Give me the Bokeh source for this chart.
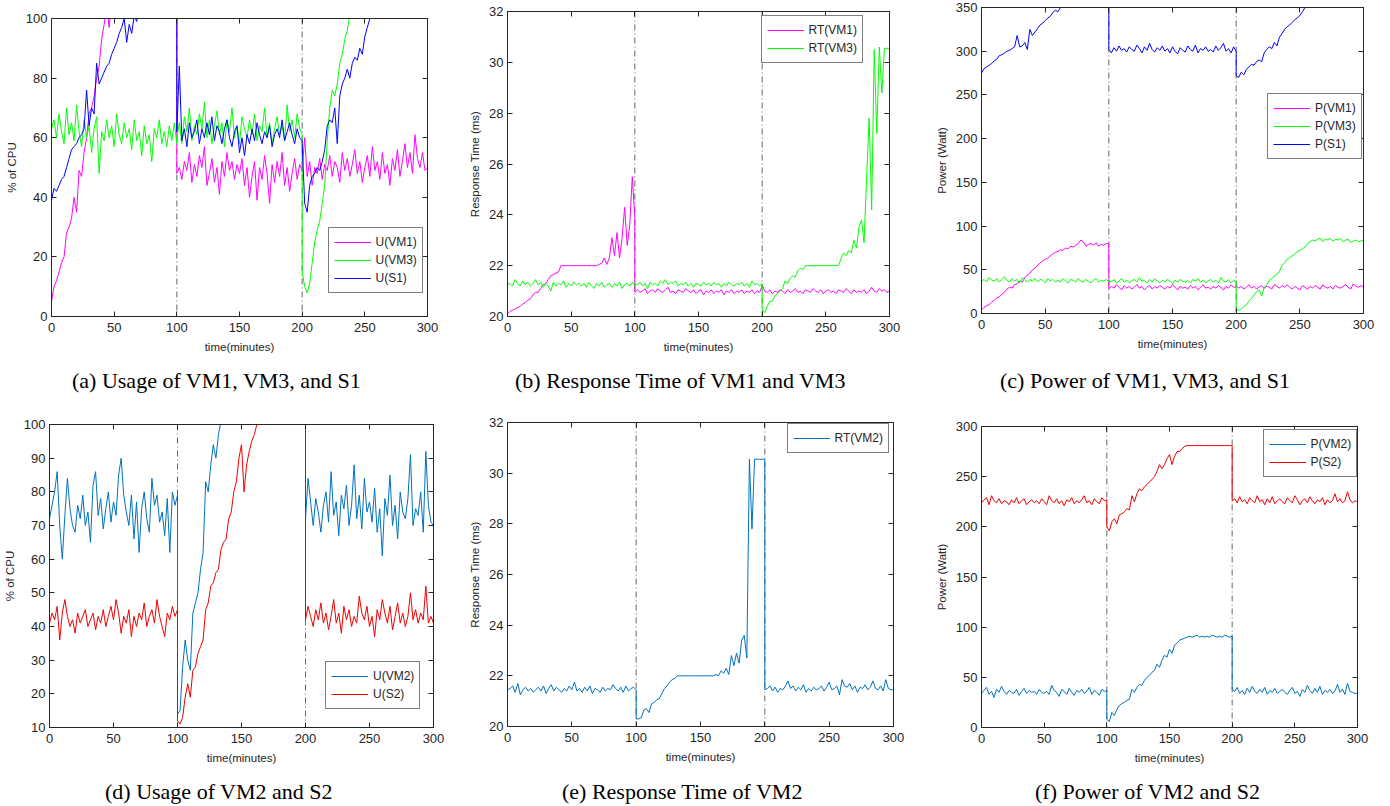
from bokeh.plotting import figure
from bokeh.models import Range1d, LinearAxis, FixedTicker, Span, Legend, LegendItem, Div
from bokeh.layouts import row, column
from bokeh.embed import file_html
from bokeh.resources import INLINE

# ---------------- data (sampled every 2 minutes, three phases: 0-100, 100-200, 200-300) -------------
T = list(range(0, 101, 2)) + list(range(100, 201, 2)) + list(range(200, 301, 2))
XTICKS = [0, 50, 100, 150, 200, 250, 300]
VLINES = [100, 200]

# (a) CPU usage (%)
U_VM1 = [5, 10, 12, 15, 18, 20, 28, 30, 33, 40, 35, 49, 47, 55, 60, 68, 70, 74, 80, 84,
         93, 98, 104, 97, 106, 108, 110, 112, 111, 115, 113, 116, 114, 118, 117, 115, 119, 116, 118, 120,
         117, 119, 121, 118, 120, 119, 122, 120, 118, 121, 120] + \
        [48, 50, 46, 52, 49, 55, 45, 51, 47, 54, 50, 57, 44, 48, 53, 45, 50, 41, 52, 47,
         55, 49, 52, 46, 51, 48, 53, 44, 50, 40, 47, 52, 39, 50, 46, 54, 48, 38, 51, 45,
         52, 47, 55, 44, 50, 42, 48, 53, 46, 51, 49] + \
        [49, 60, 47, 52, 44, 50, 48, 53, 46, 51, 49, 54, 47, 52, 50, 45, 55, 49, 53, 47,
         51, 56, 48, 52, 45, 50, 54, 47, 57, 49, 52, 46, 55, 48, 51, 44, 53, 49, 56, 47,
         52, 58, 50, 55, 48, 61, 53, 50, 55, 49, 50]
U_VM3 = [63, 66, 60, 68, 62, 58, 70, 61, 65, 59, 71, 62, 57, 66, 60, 64, 55, 63, 67, 48,
         62, 59, 66, 60, 64, 57, 68, 61, 58, 65, 60, 63, 56, 66, 59, 62, 54, 64, 58, 61,
         52, 63, 60, 66, 58, 62, 57, 64, 59, 65, 58] + \
        [60, 65, 58, 67, 62, 70, 59, 64, 61, 68, 63, 72, 60, 66, 58, 64, 69, 61, 65, 57,
         66, 62, 70, 60, 64, 58, 67, 63, 60, 66, 61, 68, 59, 64, 62, 70, 60, 65, 58, 63,
         67, 61, 64, 59, 71, 62, 66, 60, 68, 63, 61] + \
        [15, 10, 8, 11, 18, 25, 29, 32, 38, 44, 59, 70, 76, 74, 78, 85, 88, 93, 96, 101,
         104, 107, 106, 110, 112, 111, 114, 116, 115, 118, 117, 119, 118, 120, 121, 119, 122, 120, 121, 123,
         122, 120, 123, 121, 124, 122, 120, 123, 121, 122, 121]
U_S1 = [39, 43, 42, 44, 46, 47, 50, 53, 56, 57, 58, 60, 61, 63, 76, 64, 70, 68, 85, 78,
        80, 82, 84, 85, 88, 90, 92, 95, 97, 100, 92, 98, 95, 101, 99, 104, 106, 108, 110, 109,
        112, 111, 113, 115, 114, 116, 115, 117, 116, 118, 117] + \
       [62, 84, 59, 63, 57, 65, 60, 62, 66, 58, 63, 60, 65, 61, 67, 59, 64, 62, 58, 63,
        66, 60, 57, 62, 64, 55, 60, 54, 61, 58, 63, 59, 65, 61, 58, 62, 60, 64, 57, 61,
        63, 60, 66, 59, 62, 65, 61, 58, 63, 60, 59] + \
       [58, 38, 35, 44, 47, 48, 50, 49, 52, 56, 64, 66, 65, 70, 58, 74, 78, 80, 83, 80,
        85, 87, 86, 90, 88, 94, 97, 100, 102, 104, 106, 105, 108, 110, 109, 112, 111, 113, 115, 114,
        116, 115, 117, 118, 116, 119, 118, 120, 119, 121, 120]

# (b) response time (ms)
RT_VM1 = [20.1, 20.2, 20.25, 20.3, 20.35, 20.4, 20.5, 20.55, 20.65, 20.7,
          20.85, 20.95, 20.95, 21.1, 21.25, 21.3, 21.45, 21.6, 21.65, 21.7,
          21.75, 22.0, 22.0, 22.0, 22.0, 22.0, 22.0, 22.0, 22.0, 22.0,
          22.0, 22.0, 22.0, 22.0, 22.0, 22.0, 22.05, 22.1, 22.3, 22.05,
          22.3, 23.1, 22.4, 23.3, 22.3, 23.1, 24.3, 22.8, 23.6, 25.5, 23.9] + \
         [20.95, 21.05, 20.95, 21.0, 21.1, 20.9, 21.0, 21.05, 20.95, 21.1,
          21.0, 20.95, 21.05, 21.15, 20.95, 21.0, 20.9, 21.05, 21.0, 20.95,
          21.1, 21.0, 20.95, 21.05, 20.9, 21.0, 21.05, 20.85, 21.0, 20.95,
          21.05, 20.9, 21.0, 20.95, 21.05, 20.85, 21.0, 20.95, 21.05, 20.9,
          21.0, 20.95, 21.05, 20.9, 21.0, 20.95, 21.05, 20.9, 21.0, 20.95, 21.2] + \
         [21.25, 21.0, 20.95, 21.05, 20.9, 21.0, 20.95, 21.05, 21.0, 20.9,
          21.05, 20.95, 21.0, 21.1, 20.95, 21.0, 20.9, 21.05, 21.0, 20.95,
          21.1, 21.0, 20.95, 21.05, 20.9, 21.0, 21.05, 20.95, 21.0, 20.9,
          21.05, 21.0, 20.95, 21.1, 21.0, 20.9, 21.05, 20.95, 21.0, 20.95,
          21.05, 20.9, 21.0, 21.15, 21.0, 20.95, 21.1, 21.0, 21.05, 20.95, 21.0]
RT_VM3 = [21.25, 21.3, 21.2, 21.45, 21.3, 21.2, 21.4, 21.25, 21.35, 21.2,
          21.3, 21.45, 21.25, 21.35, 21.15, 21.3, 21.2, 21.0, 21.35, 21.2,
          21.3, 21.25, 21.4, 21.15, 21.3, 21.2, 21.35, 21.25, 21.3, 21.2,
          21.3, 21.15, 21.35, 21.2, 21.1, 21.3, 21.2, 21.35, 21.15, 21.25,
          21.3, 21.15, 21.3, 21.2, 21.35, 21.1, 21.25, 21.3, 21.2, 21.35, 21.2] + \
         [21.3, 21.25, 21.35, 21.2, 21.3, 21.1, 21.35, 21.25, 21.3, 21.2,
          21.4, 21.3, 21.45, 21.25, 21.35, 21.3, 21.4, 21.2, 21.3, 21.25,
          21.35, 21.2, 21.3, 21.15, 21.3, 21.25, 21.2, 21.35, 21.25, 21.3,
          21.2, 21.35, 21.25, 21.3, 21.15, 21.3, 21.2, 21.35, 21.25, 21.2,
          21.3, 21.25, 21.35, 21.2, 21.3, 21.15, 21.4, 21.25, 21.3, 21.2, 21.3] + \
         [20.3, 20.15, 20.4, 20.6, 20.6, 20.8, 20.9, 21.0, 21.1, 21.4,
          21.3, 21.5, 21.6, 21.55, 21.8, 21.9, 21.85, 22.0, 22.0, 22.0,
          22.0, 22.0, 22.0, 22.0, 22.0, 22.0, 22.0, 22.0, 22.0, 22.0,
          22.0, 22.3, 22.5, 22.4, 22.6, 22.5, 23.0, 22.7, 23.5, 23.8,
          22.9, 25.4, 27.8, 24.2, 30.5, 27.2, 30.6, 28.8, 30.55, 30.55, 30.55]

# (c) power (Watt)
P_VM1 = [4, 7, 9, 10, 13, 15, 18, 19, 22, 24, 28, 30, 29, 33, 34, 37, 36, 41, 44, 46,
         50, 52, 55, 58, 60, 62, 63, 66, 68, 70, 71, 73, 72, 75, 74, 77, 76, 78, 80, 84,
         82, 77, 79, 80, 78, 81, 77, 79, 78, 80, 80] + \
        [28, 31, 29, 33, 30, 27, 32, 29, 31, 28, 30, 33, 29, 31, 27, 30, 32, 28, 31, 29,
         32, 30, 28, 31, 29, 33, 30, 27, 31, 29, 30, 28, 32, 29, 31, 27, 30, 33, 29, 30,
         28, 31, 29, 32, 30, 27, 31, 29, 33, 30, 30] + \
        [32, 29, 31, 28, 30, 33, 29, 31, 28, 30, 32, 29, 31, 30, 28, 33, 31, 29, 32, 30,
         33, 30, 28, 31, 29, 27, 32, 30, 28, 31, 29, 32, 30, 28, 33, 30, 29, 31, 28, 32,
         30, 29, 31, 33, 30, 28, 34, 31, 30, 32, 30]
P_VM3 = [37, 39, 36, 41, 38, 37, 40, 36, 39, 42, 38, 36, 40, 37, 39, 35, 41, 38, 36, 39,
         37, 40, 36, 39, 38, 35, 40, 37, 39, 36, 38, 36, 40, 37, 35, 39, 38, 36, 40, 37,
         36, 39, 37, 35, 38, 40, 36, 38, 37, 39, 36] + \
        [38, 36, 39, 35, 37, 40, 36, 38, 35, 37, 39, 36, 41, 37, 38, 35, 39, 36, 40, 37,
         35, 38, 36, 39, 37, 34, 38, 36, 39, 37, 36, 38, 35, 39, 37, 40, 36, 38, 35, 37,
         39, 36, 38, 35, 41, 37, 36, 39, 35, 38, 36] + \
        [6, 3, 5, 8, 10, 14, 17, 21, 25, 27, 20, 30, 33, 38, 40, 43, 45, 48, 55, 58,
         62, 64, 66, 68, 71, 72, 74, 76, 80, 82, 84, 83, 85, 86, 82, 85, 84, 86, 83, 85,
         84, 86, 82, 84, 85, 81, 83, 84, 82, 83, 84]
P_S1 = [275, 280, 282, 284, 286, 289, 291, 295, 296, 298, 300, 301, 303, 305, 318, 305, 306, 310, 302, 325,
        318, 322, 326, 330, 332, 335, 338, 340, 344, 347, 345, 350, 352, 355, 357, 356, 360, 358, 362, 361,
        363, 362, 365, 364, 366, 365, 367, 366, 368, 367, 368] + \
       [302, 298, 304, 300, 306, 301, 303, 299, 305, 302, 300, 307, 303, 298, 305, 301, 309, 302, 299, 304,
        301, 306, 300, 303, 298, 305, 300, 297, 304, 301, 299, 306, 302, 300, 307, 298, 303, 301, 305, 300,
        302, 299, 306, 301, 304, 309, 300, 303, 298, 305, 300] + \
       [272, 270, 276, 273, 279, 282, 285, 284, 288, 290, 288, 298, 302, 305, 303, 310, 306, 316, 320, 325,
        328, 330, 333, 336, 338, 341, 345, 350, 352, 355, 357, 356, 359, 360, 362, 361, 363, 364, 366, 365,
        367, 366, 368, 369, 367, 370, 369, 371, 370, 372, 371]

# (d) CPU usage (%)
U_VM2 = [72, 76, 80, 86, 70, 60, 73, 84, 75, 70, 68, 76, 72, 79, 70, 74, 65, 82, 86, 73,
         78, 69, 75, 80, 71, 77, 73, 85, 90, 79, 74, 70, 79, 66, 77, 62, 75, 80, 72, 68,
         84, 76, 79, 71, 74, 67, 78, 62, 80, 76, 79] + \
        [14, 15, 28, 36, 30, 27, 44, 47, 50, 57, 62, 83, 80, 88, 94, 90, 97, 101, 104, 106,
         108, 107, 110, 109, 111, 110, 112, 111, 113, 112, 114, 113, 112, 115, 114, 113, 116, 115, 114, 116,
         115, 117, 116, 115, 117, 116, 118, 117, 116, 118, 117] + \
        [72, 84, 77, 70, 78, 74, 68, 76, 80, 71, 86, 73, 77, 67, 79, 75, 82, 70, 76, 88,
         72, 79, 69, 84, 74, 77, 71, 81, 68, 75, 61, 78, 73, 85, 70, 76, 66, 80, 74, 72,
         78, 91, 70, 75, 73, 80, 68, 92, 76, 71, 70]
U_S2 = [41, 44, 42, 46, 36, 44, 48, 43, 40, 42, 38, 44, 41, 43, 45, 40, 42, 44, 39, 43,
        41, 45, 40, 43, 46, 42, 48, 44, 38, 43, 41, 45, 37, 43, 40, 44, 42, 47, 40, 43,
        45, 41, 48, 43, 40, 37, 44, 42, 46, 43, 45] + \
       [12, 11, 13, 19, 23, 19, 27, 28, 32, 34, 36, 45, 47, 52, 53, 56, 57, 63, 65, 66,
        72, 74, 80, 83, 90, 94, 80, 88, 92, 95, 97, 100, 101, 104, 103, 106, 105, 107, 108, 107,
        109, 108, 110, 109, 111, 110, 112, 111, 110, 112, 111] + \
       [42, 46, 43, 40, 45, 42, 47, 41, 44, 39, 43, 48, 41, 44, 38, 46, 42, 45, 40, 43,
        41, 49, 44, 42, 46, 40, 43, 37, 45, 42, 48, 44, 41, 46, 39, 43, 47, 41, 44, 40,
        43, 50, 42, 45, 41, 44, 42, 52, 41, 43, 41]

# (e) response time (ms)
RT_VM2 = [21.45, 21.5, 21.6, 21.35, 21.7, 21.25, 21.45, 21.55, 21.4, 21.5,
          21.35, 21.45, 21.55, 21.4, 21.6, 21.3, 21.5, 21.65, 21.4, 21.55,
          21.45, 21.35, 21.5, 21.4, 21.6, 21.45, 21.75, 21.4, 21.5, 21.35,
          21.55, 21.4, 21.6, 21.3, 21.5, 21.45, 21.35, 21.55, 21.4, 21.5,
          21.45, 21.65, 21.5, 21.4, 21.55, 21.35, 21.6, 21.4, 21.5, 21.55, 21.45] + \
         [20.3, 20.3, 20.35, 20.65, 20.7, 20.55, 20.9, 20.95, 21.05, 21.1,
          21.3, 21.5, 21.6, 21.75, 21.85, 21.9, 22.0, 22.0, 22.0, 22.0,
          22.0, 22.0, 22.0, 22.0, 22.0, 22.0, 22.0, 22.0, 22.0, 22.0,
          22.0, 22.05, 22.0, 22.2, 22.1, 22.3, 22.05, 22.8, 22.4, 22.9,
          22.5, 23.4, 23.6, 22.7, 30.55, 27.8, 30.55, 30.55, 30.55, 30.55, 30.55] + \
         [21.45, 21.5, 21.6, 21.4, 21.55, 21.35, 21.5, 21.45, 21.6, 21.8,
          21.5, 21.6, 21.4, 21.55, 21.45, 21.65, 21.35, 21.5, 21.4, 21.55,
          21.45, 21.5, 21.6, 21.4, 21.55, 21.75, 21.45, 21.5, 21.6, 21.25,
          21.85, 21.6, 21.55, 21.7, 21.45, 21.6, 21.35, 21.55, 21.5, 21.65,
          21.45, 21.55, 21.8, 21.5, 21.45, 21.6, 21.4, 21.85, 21.5, 21.45, 21.45]

# (f) power (Watt)
P_VM2 = [34, 37, 40, 33, 36, 30, 38, 35, 41, 36, 33, 37, 35, 34, 38, 32, 36, 39, 34, 37,
         35, 36, 33, 38, 35, 34, 36, 33, 42, 37, 35, 31, 38, 36, 33, 39, 35, 32, 37, 35,
         38, 34, 36, 40, 33, 37, 35, 32, 38, 36, 37] + \
        [8, 6, 15, 12, 18, 22, 24, 25, 27, 28, 38, 35, 40, 43, 42, 47, 50, 52, 55, 57,
         63, 60, 67, 72, 70, 78, 74, 82, 84, 87, 88, 89, 90, 91, 90, 91, 92, 90, 91, 90,
         91, 90, 92, 91, 90, 91, 90, 92, 91, 90, 91] + \
        [38, 36, 40, 34, 37, 33, 39, 35, 41, 36, 34, 38, 35, 40, 33, 37, 35, 39, 34, 36,
         38, 35, 33, 37, 40, 34, 36, 31, 38, 35, 42, 37, 34, 39, 35, 41, 33, 37, 35, 38,
         34, 36, 43, 35, 38, 33, 44, 36, 35, 34, 34]
P_S2 = [224, 227, 229, 222, 231, 226, 224, 228, 223, 226, 225, 222, 227, 224, 229, 223, 226, 228, 222, 225,
        227, 224, 226, 223, 228, 225, 222, 231, 226, 224, 228, 223, 226, 221, 227, 225, 229, 223, 226, 224,
        227, 231, 224, 226, 222, 228, 225, 223, 229, 226, 227] + \
       [200, 196, 205, 208, 203, 212, 213, 215, 218, 217, 231, 225, 233, 238, 236, 240, 242, 245, 247, 250,
        255, 262, 258, 262, 268, 272, 262, 270, 275, 275, 278, 280, 281, 281, 281, 281, 281, 281, 281, 281,
        281, 281, 281, 281, 281, 281, 281, 281, 281, 281, 281] + \
       [226, 228, 224, 230, 225, 227, 223, 229, 226, 224, 231, 225, 227, 222, 228, 224, 230, 223, 226, 228,
        225, 223, 229, 226, 224, 231, 227, 222, 226, 228, 224, 230, 226, 223, 227, 225, 229, 222, 227, 224,
        226, 233, 225, 228, 224, 226, 235, 227, 224, 226, 225]

# ---------------- styling -------------
SANS = "Liberation Sans"
SERIF = "Liberation Serif"
INK = "#262626"
MAGENTA, GREEN, BLUE = "#ff00ff", "#00ff00", "#0000ff"
BLUE2, RED = "#0072bd", "#ee0000"


def style_axis(ax, labels=True):
    ax.axis_line_color = INK
    ax.major_tick_line_color = INK
    ax.major_tick_in = 5
    ax.major_tick_out = 0
    ax.minor_tick_line_color = None
    ax.major_label_text_font = SANS
    ax.major_label_text_font_size = "13px" if labels else "0px"
    ax.major_label_text_color = INK if labels else None
    ax.major_label_standoff = 6 if labels else 0
    ax.axis_label_text_font = SANS
    ax.axis_label_text_font_size = "11.5px"
    ax.axis_label_text_font_style = "normal"
    ax.axis_label_text_color = INK
    ax.axis_label_standoff = 6


def panel(width, height, borders, yr, yticks, ylabel):
    left, right, top, bottom = borders
    p = figure(width=width, height=height, x_range=Range1d(0, 300), y_range=Range1d(*yr),
               output_backend="svg", toolbar_location=None, tools="",
               min_border_left=left, min_border_right=right,
               min_border_top=top, min_border_bottom=bottom)
    p.grid.visible = False
    p.outline_line_color = INK
    p.background_fill_color = "white"
    p.border_fill_color = "white"
    xa, ya = p.below[0], p.left[0]
    xa.ticker = FixedTicker(ticks=XTICKS)
    ya.ticker = FixedTicker(ticks=yticks)
    xa.axis_label = "time(minutes)"
    ya.axis_label = ylabel
    style_axis(xa)
    style_axis(ya)
    ya.major_label_standoff = 4
    ya.axis_label_standoff = 5
    ra = LinearAxis(ticker=FixedTicker(ticks=yticks))
    ta = LinearAxis(ticker=FixedTicker(ticks=XTICKS))
    style_axis(ra, labels=False)
    style_axis(ta, labels=False)
    p.add_layout(ra, "right")
    p.add_layout(ta, "above")
    for v in VLINES:
        p.add_layout(Span(location=v, dimension="height", line_color="#666666",
                          line_dash="6 3 1 3", line_width=1, level="underlay"))
    return p


def add_lines(p, series, loc, half=True):
    items = []
    for label, ys, color in series:
        r = p.line(T, ys, line_color=color, line_width=1)
        items.append(LegendItem(label=label, renderers=[r]))
    d = 0.5 if half else 0.0
    lg = Legend(items=items, location=(loc[0] + d, loc[1] - d), margin=0, padding=5, spacing=0,
                glyph_width=37, glyph_height=18, label_height=18, label_standoff=5,
                label_text_font=SANS, label_text_font_size="12px", label_text_color=INK,
                border_line_color="black", border_line_width=1,
                background_fill_color="white", background_fill_alpha=1)
    p.add_layout(lg)


def caption(text, width, height, indent):
    return Div(text=text, width=width, height=height, margin=0,
               styles={"font-family": SERIF, "font-size": "22px", "line-height": "25px",
                       "color": "black", "white-space": "nowrap", "text-indent": f"{indent}px"})


pa = panel(462, 368, (51, 35, 18, 52), (0, 100), [0, 20, 40, 60, 80, 100], "% of CPU")
add_lines(pa, [("U(VM1)", U_VM1, MAGENTA), ("U(VM3)", U_VM3, GREEN), ("U(S1)", U_S1, BLUE)], (276, 24))

pb = panel(470, 368, (45, 43, 11, 52), (20, 32), [20, 22, 24, 26, 28, 30, 32], "Response Time (ms)")
add_lines(pb, [("RT(VM1)", RT_VM1, MAGENTA), ("RT(VM3)", RT_VM3, GREEN)], (253, 254))

pc = panel(458, 368, (45, 27, 7, 55), (0, 350), [0, 50, 100, 150, 200, 250, 300, 350], "Power (Watt)")
add_lines(pc, [("P(VM1)", P_VM1, MAGENTA), ("P(VM3)", P_VM3, GREEN), ("P(S1)", P_S1, BLUE)], (286, 154),
          half=False)

pd = panel(462, 371, (48, 29, 16, 52), (10, 100), [10, 20, 30, 40, 50, 60, 70, 80, 90, 100], "% of CPU")
add_lines(pd, [("U(VM2)", U_VM2, BLUE2), ("U(S2)", U_S2, RED)], (276, 18), half=False)

pe = panel(470, 371, (45, 39, 14, 53), (20, 32), [20, 22, 24, 26, 28, 30, 32], "Response Time (ms)")
add_lines(pe, [("RT(VM2)", RT_VM2, BLUE2)], (279, 274))

pf = panel(458, 371, (45, 33, 18, 52), (0, 300), [0, 50, 100, 150, 200, 250, 300], "Power (Watt)")
add_lines(pf, [("P(VM2)", P_VM2, BLUE2), ("P(S2)", P_S2, RED)], (281, 251))

ca = caption("(a) Usage of VM1, VM3, and S1", 462, 40, 72)
cb = caption("(b) Response Time of VM1 and VM3", 470, 40, 53)
cc = caption("(c) Power of VM1, VM3, and S1", 458, 40, 68)
cd = caption("(d) Usage of VM2 and S2", 462, 27, 105)
ce = caption("(e) Response Time of VM2", 470, 27, 100)
cf = caption("(f) Power of VM2 and S2", 458, 27, 103)

layout = column(row(column(pa), column(pb), column(pc), spacing=0),
                row(ca, cb, cc, spacing=0),
                row(column(pd), column(pe), column(pf), spacing=0),
                row(cd, ce, cf, spacing=0), spacing=0)

with open("out.html", "w") as f:
    f.write(file_html(layout, INLINE))
